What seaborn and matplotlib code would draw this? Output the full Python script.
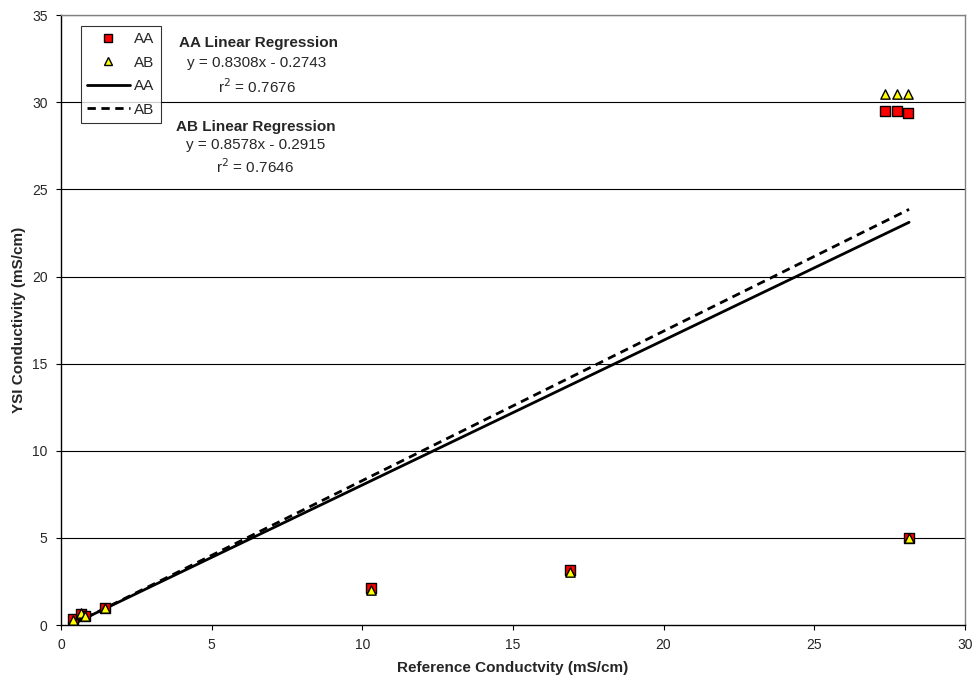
import numpy as np
import pandas as pd
import matplotlib
matplotlib.use('Agg')
import matplotlib.pyplot as plt
import seaborn as sns
from matplotlib.lines import Line2D

# data
ref_cond = [0.4, 0.65, 0.8, 1.45, 10.3, 16.9, 27.35, 27.75, 28.1, 28.15]
ysi_aa = [0.35, 0.65, 0.5, 0.95, 2.1, 3.15, 29.5, 29.5, 29.4, 5.0]
ysi_ab = [0.3, 0.7, 0.5, 0.95, 2.0, 3.05, 30.5, 30.5, 30.5, 5.0]

# regression results printed on the chart
slope_aa, icpt_aa, r2_aa = 0.8308, -0.2743, 0.7676
slope_ab, icpt_ab, r2_ab = 0.8578, -0.2915, 0.7646

sns.set_style('white')
plt.rcParams['font.family'] = ['Liberation Sans', 'DejaVu Sans']

fig = plt.figure(figsize=(9.74, 6.86), dpi=100)
ax = fig.add_axes([0.0626, 0.0889, 0.928, 0.889])

for y in range(5, 36, 5):
    ax.axhline(y, color='black', lw=0.8, zorder=0)

xr = np.array([min(ref_cond), max(ref_cond)])
fit = pd.DataFrame({'x': np.concatenate([xr, xr]),
                    'y': np.concatenate([slope_aa * xr + icpt_aa, slope_ab * xr + icpt_ab]),
                    'fit': ['AA', 'AA', 'AB', 'AB']})
sns.lineplot(data=fit[fit.fit == 'AA'], x='x', y='y', color='black', lw=2, ax=ax, zorder=2)
sns.lineplot(data=fit[fit.fit == 'AB'], x='x', y='y', color='black', lw=2,
             linestyle=(0, (3, 2)), ax=ax, zorder=2)

sns.scatterplot(x=ref_cond, y=ysi_aa, marker='s', s=55, color='#ff0000',
                edgecolor='black', linewidth=1, ax=ax, zorder=3)
sns.scatterplot(x=ref_cond, y=ysi_ab, marker='^', s=45, color='#ffff00',
                edgecolor='black', linewidth=1, ax=ax, zorder=4)

ax.set_xlim(0, 30)
ax.set_ylim(0, 35)
ax.set_xticks(range(0, 31, 5))
ax.set_yticks(range(0, 36, 5))
ax.tick_params(axis='both', direction='out', length=3.6, width=0.8, labelsize=10,
               pad=6, bottom=True, left=True, color='black')
for s in ['left', 'bottom']:
    ax.spines[s].set_color('black')
    ax.spines[s].set_linewidth(1)
for s in ['top', 'right']:
    ax.spines[s].set_color('#808080')
    ax.spines[s].set_linewidth(1)

ax.set_xlabel('Reference Conductvity (mS/cm)', fontsize=11, fontweight='bold', labelpad=6)
ax.set_ylabel('YSI Conductivity (mS/cm)', fontsize=11, fontweight='bold', labelpad=4)

handles = [
    Line2D([], [], marker='s', ls='none', mfc='#ff0000', mec='black', ms=6),
    Line2D([], [], marker='^', ls='none', mfc='#ffff00', mec='black', ms=6),
    Line2D([], [], color='black', lw=2),
    Line2D([], [], color='black', lw=2, ls=(0, (3, 2))),
]
leg = ax.legend(handles, ['AA', 'AB', 'AA', 'AB'], loc='upper left',
                bbox_to_anchor=(0.0218, 0.982), fontsize=11, frameon=True, fancybox=False,
                handlelength=2.8, handletextpad=0.3, labelspacing=0.62, borderpad=0.4,
                borderaxespad=0)
leg.get_frame().set_edgecolor('black')
leg.get_frame().set_linewidth(0.8)

tx = dict(transform=ax.transData, ha='center', va='center', fontsize=11)
ax.text(6.57, 33.39, 'AA Linear Regression', fontweight='bold', **tx)
ax.text(6.5, 32.24, f'y = {slope_aa}x - {abs(icpt_aa)}', **tx)
ax.text(6.5, 30.87, f'r$^2$ = {r2_aa}', **tx)
ax.text(6.47, 28.57, 'AB Linear Regression', fontweight='bold', **tx)
ax.text(6.45, 27.54, f'y = {slope_ab}x - {abs(icpt_ab)}', **tx)
ax.text(6.45, 26.28, f'r$^2$ = {r2_ab}', **tx)

fig.savefig('out.png', dpi=100)
